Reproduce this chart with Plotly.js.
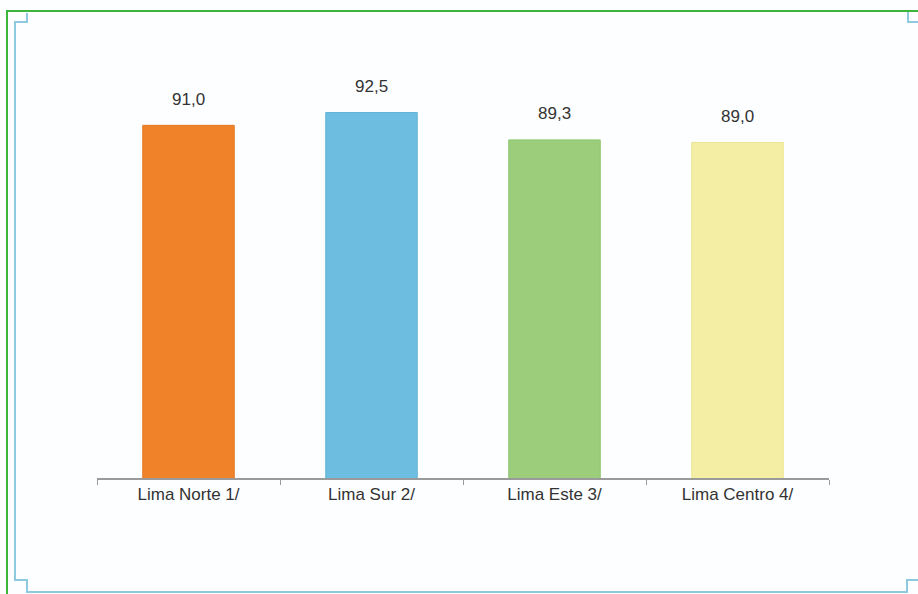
<!DOCTYPE html>
<html>
<head>
<meta charset="utf-8">
<script src="https://cdn.plot.ly/plotly-3.0.1.min.js"></script>
<style>
html,body{margin:0;padding:0;background:#fdfeff;}
#chart{width:918px;height:594px;}
</style>
</head>
<body>
<div id="chart"></div>
<script>
const categories = ["Lima Norte 1/", "Lima Sur 2/", "Lima Este 3/", "Lima Centro 4/"];
const values = [91.0, 92.5, 89.3, 89.0];
const barColors = ["#f0822a", "#6dbde0", "#9bcd7b", "#f3eea4"];
const barLines = ["#e57a22", "#62b4d8", "#8fc56f", "#ebe590"];

const W = 918, H = 594, L = 97, R = 89, T = 50, B = 116;
const pw = W - L - R, ph = H - T - B;
const px = x => (x - L) / pw;
const py = y => (H - B - y) / ph;

const labels = values.map(v => v.toFixed(1).replace('.', ','));
const FONT = 'Liberation Sans Narrow, Arial Narrow, Liberation Sans, Arial';

const trace = {
  type: 'bar',
  x: categories,
  y: values,
  marker: {color: barColors, line: {color: barLines, width: 1}},
  hoverinfo: 'none',
  cliponaxis: true
};

const annotations = categories.map((c, i) => ({
  x: c, y: values[i], xref: 'x', yref: 'y',
  text: labels[i], showarrow: false, yshift: 26,
  font: {family: FONT, size: 17, color: '#333333'}
}));

const frame = 'M ' + px(27) + ',' + py(13) + ' L ' + px(27) + ',' + py(22) + ' L ' + px(15) + ',' + py(22) +
  ' L ' + px(15) + ',' + py(580) + ' L ' + px(27) + ',' + py(580) + ' L ' + px(27) + ',' + py(592) +
  ' L ' + px(907) + ',' + py(592) + ' L ' + px(907) + ',' + py(580) + ' L ' + px(918) + ',' + py(580);
const frameTR = 'M ' + px(908) + ',' + py(11) + ' L ' + px(908) + ',' + py(22) + ' L ' + px(918) + ',' + py(22);
const green = 'M ' + px(7) + ',' + py(594) + ' L ' + px(7) + ',' + py(11) + ' L ' + px(918) + ',' + py(11);

const layout = {
  width: W, height: H,
  margin: {l: L, r: R, t: T, b: B},
  paper_bgcolor: '#fdfeff',
  plot_bgcolor: '#fdfeff',
  bargap: 0.5,
  showlegend: false,
  xaxis: {
    type: 'category',
    showline: true, linecolor: '#9a9a9a', linewidth: 2,
    ticks: 'outside', tickson: 'boundaries', ticklen: 5, tickcolor: '#9a9a9a', tickwidth: 1,
    showgrid: false, zeroline: false,
    tickfont: {family: FONT, size: 17, color: '#333333'},
    fixedrange: true
  },
  yaxis: {
    range: [49.8, 99.8], visible: false, showgrid: false, zeroline: false, fixedrange: true
  },
  annotations: annotations,
  shapes: [
    {type: 'path', xref: 'paper', yref: 'paper', path: frame, line: {color: '#8ec9e0', width: 2}},
    {type: 'path', xref: 'paper', yref: 'paper', path: frameTR, line: {color: '#8ec9e0', width: 2}},
    {type: 'path', xref: 'paper', yref: 'paper', path: green, line: {color: '#3db53d', width: 2}}
  ]
};

Plotly.newPlot('chart', [trace], layout, {displayModeBar: false, staticPlot: true});
</script>
</body>
</html>
